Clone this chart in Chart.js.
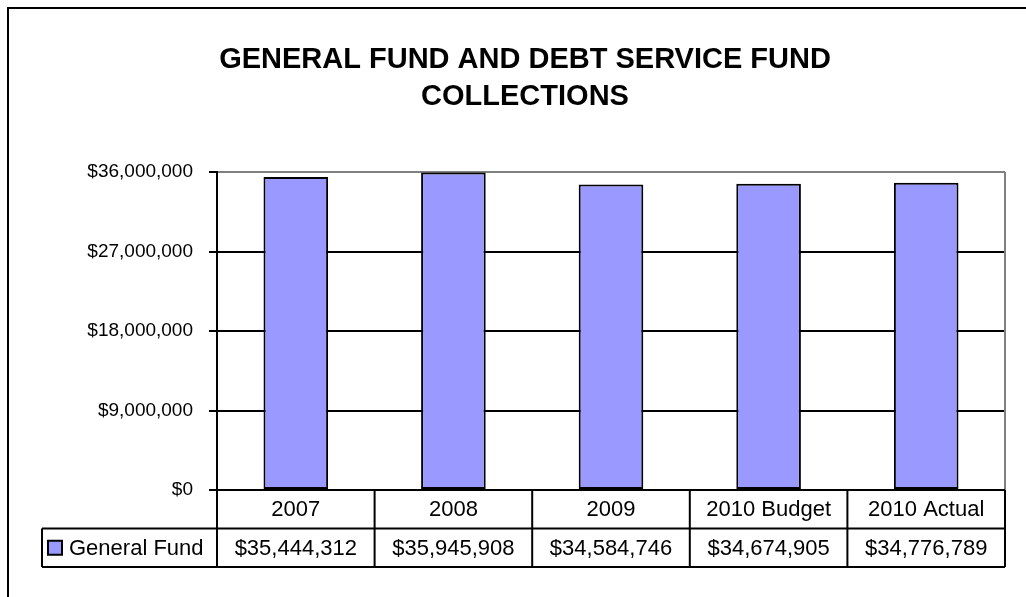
<!DOCTYPE html>
<html>
<head>
<meta charset="utf-8">
<script src="https://cdn.jsdelivr.net/npm/chart.js@4/dist/chart.umd.min.js"></script>
<style>
  html, body { margin: 0; padding: 0; background: #fff; }
  #wrap { width: 1026px; height: 597px; }
</style>
</head>
<body>
<div id="wrap"><canvas id="BarChart" width="1026" height="597"></canvas></div>
<script>
// 데이터
const categories = ['2007', '2008', '2009', '2010 Budget', '2010 Actual'];
const generalFund = [35444312, 35945908, 34584746, 34674905, 34776789];
const seriesName = 'General Fund';
const titleLines = ['GENERAL FUND AND DEBT SERVICE FUND', 'COLLECTIONS'];
const yMax = 36000000;
const yStep = 9000000;

const FONT = '"Liberation Sans", Arial, sans-serif';
const BAR_COLOR = '#9999FF';

const money = (v) => '$' + v.toLocaleString('en-US');

// 바깥 테두리 + 제목
const framePlugin = {
    id: 'framePlugin',
    beforeDraw: (chart) => {
        const { ctx } = chart;
        ctx.save();
        ctx.strokeStyle = '#000';
        ctx.lineWidth = 2;
        ctx.beginPath();
        ctx.moveTo(8, 700);
        ctx.lineTo(8, 8);
        ctx.lineTo(1100, 8);
        ctx.stroke();

        ctx.fillStyle = '#000';
        ctx.font = 'bold 29px ' + FONT;
        ctx.textAlign = 'center';
        ctx.textBaseline = 'middle';
        titleLines.forEach((t, i) => ctx.fillText(t, 525, 60 + i * 37));
        ctx.restore();
    }
};

// 아래 데이터 테이블 (엑셀 스타일)
const tablePlugin = {
    id: 'tablePlugin',
    afterDraw: (chart) => {
        const { ctx, chartArea } = chart;
        const xs = chart.scales.x;
        const n = categories.length;
        const colW = (xs.right - xs.left) / n;
        const top = chartArea.bottom;
        const rowH = 38.5;
        const mid = top + rowH;
        const bot = top + rowH * 2;
        const legendLeft = 42;

        ctx.save();
        // 오른쪽 회색 프레임
        ctx.strokeStyle = '#808080';
        ctx.lineWidth = 2;
        ctx.beginPath();
        ctx.moveTo(chartArea.right, chartArea.top);
        ctx.lineTo(chartArea.right, chartArea.bottom);
        ctx.stroke();

        ctx.strokeStyle = '#000';
        ctx.lineWidth = 2;
        ctx.beginPath();
        // 세로선
        for (let i = 0; i <= n; i++) {
            const x = xs.left + i * colW;
            ctx.moveTo(x, top);
            ctx.lineTo(x, bot);
        }
        ctx.moveTo(legendLeft, mid);
        ctx.lineTo(legendLeft, bot);
        // 가로선
        ctx.moveTo(xs.left, top);
        ctx.lineTo(xs.right, top);
        ctx.moveTo(legendLeft, mid);
        ctx.lineTo(xs.right, mid);
        ctx.moveTo(legendLeft, bot);
        ctx.lineTo(xs.right, bot);
        ctx.stroke();

        ctx.fillStyle = '#000';
        ctx.font = '22px ' + FONT;
        ctx.textAlign = 'center';
        ctx.textBaseline = 'middle';
        categories.forEach((c, i) => {
            const cx = xs.getPixelForValue(i);
            ctx.fillText(c, cx, top + rowH / 2 + 1);
            ctx.fillText(money(generalFund[i]), cx, mid + rowH / 2 + 1);
        });

        // 범례 칸
        const sq = 14;
        const sy = mid + rowH / 2 - sq / 2;
        ctx.fillStyle = BAR_COLOR;
        ctx.fillRect(48, sy, sq, sq);
        ctx.strokeRect(48, sy, sq, sq);
        ctx.fillStyle = '#000';
        ctx.textAlign = 'left';
        ctx.fillText(seriesName, 69, mid + rowH / 2 + 1);
        ctx.restore();
    }
};

const bar_chart = () => {
    const ctx = document.getElementById('BarChart');
    if (!ctx) return;

    new Chart(ctx, {
        type: 'bar',
        data: {
            labels: categories,
            datasets: [{
                label: seriesName,
                data: generalFund,
                backgroundColor: BAR_COLOR,
                borderColor: '#000',
                borderWidth: 2,
                borderSkipped: false,
                categoryPercentage: 1,
                barPercentage: 0.41
            }]
        },
        options: {
            responsive: false,
            animation: false,
            layout: { padding: { left: 0, top: 172, right: 21, bottom: 107 } },
            plugins: {
                legend: { display: false },
                tooltip: { enabled: false },
                title: { display: false }
            },
            scales: {
                x: { display: false },
                y: {
                    min: 0,
                    max: yMax,
                    afterFit: (scale) => { scale.width = 217; },
                    border: { color: '#000', width: 2 },
                    grid: {
                        lineWidth: 2,
                        tickLength: 8,
                        color: (c) => (c.tick && c.tick.value === yMax ? '#808080' : '#000'),
                        tickColor: '#000'
                    },
                    ticks: {
                        stepSize: yStep,
                        padding: 16,
                        color: '#000',
                        font: { family: FONT, size: 19 },
                        callback: (v) => money(v)
                    }
                }
            }
        },
        plugins: [framePlugin, tablePlugin]
    });
};

document.addEventListener('DOMContentLoaded', () => {
    bar_chart();
});
</script>
</body>
</html>
